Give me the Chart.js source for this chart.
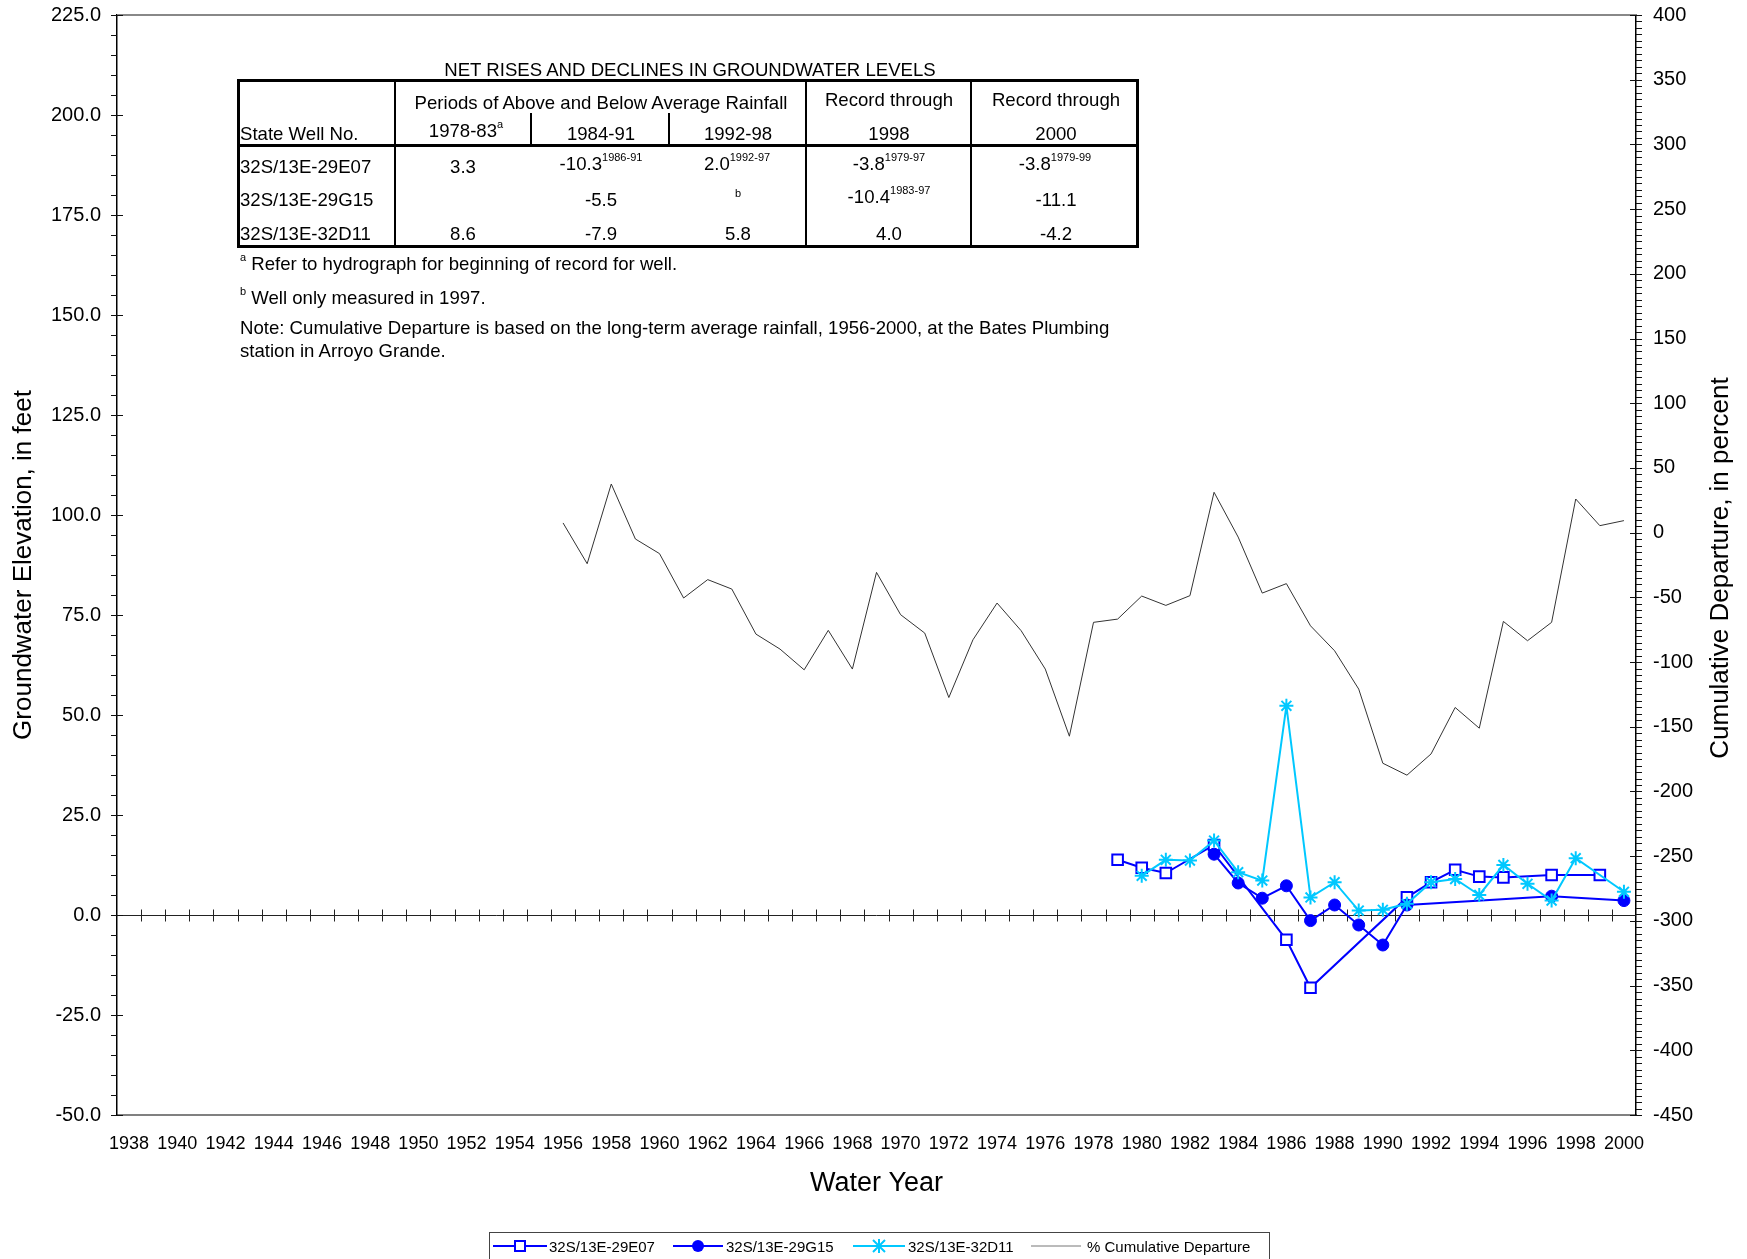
<!DOCTYPE html>
<html>
<head>
<meta charset="utf-8">
<title>Groundwater hydrograph</title>
<script src="https://cdn.jsdelivr.net/npm/chart.js@4.4.1/dist/chart.umd.min.js"></script>
<style>
  body { margin: 0; background: #fff; font-family: "Liberation Sans", Arial, sans-serif; }
  #wrap { position: relative; width: 1747px; height: 1259px; overflow: hidden; }
  #chart { position: absolute; left: 0; top: 0; }
  .t { position: absolute; font-size: 18.6px; color: #000; white-space: nowrap; line-height: 1; }
  .c { transform: translate(-50%, -50%); }
  .l { transform: translateY(-50%); }
  .t sup { font-size: 11px; line-height: 0; position: relative; top: -2px; }
  .ln { position: absolute; background: #000; }
  #legend { position: absolute; left: 489px; top: 1232px; width: 781px; height: 40px;
            border: 1px solid #444; box-sizing: border-box; }
  .lg { position: absolute; font-size: 15px; top: 13px; transform: translateY(-50%); white-space: nowrap; line-height: 1; }
</style>
</head>
<body>
<div id="wrap">
  <canvas id="chart" width="1747" height="1259"></canvas>

  <!-- summary table -->
  <div class="t c" style="left:690px; top:70px;">NET RISES AND DECLINES IN GROUNDWATER LEVELS</div>
  <div style="position:absolute; left:237px; top:79px; width:902px; height:169px; border:3px solid #000; box-sizing:border-box;"></div>
  <div class="ln" style="left:237px; top:144px; width:902px; height:3px;"></div>
  <div class="ln" style="left:394px; top:79px; width:2px; height:169px;"></div>
  <div class="ln" style="left:530px; top:113px; width:2px; height:33px;"></div>
  <div class="ln" style="left:668px; top:113px; width:2px; height:33px;"></div>
  <div class="ln" style="left:805px; top:79px; width:2px; height:169px;"></div>
  <div class="ln" style="left:970px; top:79px; width:2px; height:169px;"></div>

  <div class="t c" style="left:601px; top:103px;">Periods of Above and Below Average Rainfall</div>
  <div class="t c" style="left:889px; top:100px;">Record through</div>
  <div class="t c" style="left:1056px; top:100px;">Record through</div>
  <div class="t l" style="left:240px; top:134px;">State Well No.</div>
  <div class="t c" style="left:466px; top:131px;">1978-83<sup>a</sup></div>
  <div class="t c" style="left:601px; top:134px;">1984-91</div>
  <div class="t c" style="left:738px; top:134px;">1992-98</div>
  <div class="t c" style="left:889px; top:134px;">1998</div>
  <div class="t c" style="left:1056px; top:134px;">2000</div>

  <div class="t l" style="left:240px; top:167px;">32S/13E-29E07</div>
  <div class="t c" style="left:463px; top:167px;">3.3</div>
  <div class="t c" style="left:601px; top:164px;">-10.3<sup>1986-91</sup></div>
  <div class="t c" style="left:737px; top:164px;">2.0<sup>1992-97</sup></div>
  <div class="t c" style="left:889px; top:164px;">-3.8<sup>1979-97</sup></div>
  <div class="t c" style="left:1055px; top:164px;">-3.8<sup>1979-99</sup></div>

  <div class="t l" style="left:240px; top:200px;">32S/13E-29G15</div>
  <div class="t c" style="left:601px; top:200px;">-5.5</div>
  <div class="t c" style="left:738px; top:193px; font-size:11px;">b</div>
  <div class="t c" style="left:889px; top:197px;">-10.4<sup>1983-97</sup></div>
  <div class="t c" style="left:1056px; top:200px;">-11.1</div>

  <div class="t l" style="left:240px; top:234px;">32S/13E-32D11</div>
  <div class="t c" style="left:463px; top:234px;">8.6</div>
  <div class="t c" style="left:601px; top:234px;">-7.9</div>
  <div class="t c" style="left:738px; top:234px;">5.8</div>
  <div class="t c" style="left:889px; top:234px;">4.0</div>
  <div class="t c" style="left:1056px; top:234px;">-4.2</div>

  <div class="t l" style="left:240px; top:264px;"><sup>a</sup> Refer to hydrograph for beginning of record for well.</div>
  <div class="t l" style="left:240px; top:298px;"><sup>b</sup> Well only measured in 1997.</div>
  <div class="t l" style="left:240px; top:328px;">Note: Cumulative Departure is based on the long-term average rainfall, 1956-2000, at the Bates Plumbing</div>
  <div class="t l" style="left:240px; top:351px;">station in Arroyo Grande.</div>

  <!-- legend -->
  <div id="legend">
    <svg width="781" height="30" style="position:absolute; left:-1px; top:-1px;">
      <line x1="4" y1="14" x2="58" y2="14" stroke="#0000ff" stroke-width="2"/>
      <rect x="26" y="9" width="10" height="10" fill="#fff" stroke="#0000ff" stroke-width="2"/>
      <line x1="184" y1="14" x2="234" y2="14" stroke="#0000ff" stroke-width="2"/>
      <circle cx="209" cy="14" r="6" fill="#0000ff"/>
      <line x1="364" y1="14" x2="416" y2="14" stroke="#00c8ff" stroke-width="2"/>
      <path d="M390 7 V21 M384 8 L396 20 M396 8 L384 20 M383 14 H397" stroke="#00c8ff" stroke-width="2"/>
      <line x1="542" y1="14" x2="592" y2="14" stroke="#777" stroke-width="1"/>
    </svg>
    <div class="lg" style="left:59px;">32S/13E-29E07</div>
    <div class="lg" style="left:236px;">32S/13E-29G15</div>
    <div class="lg" style="left:418px;">32S/13E-32D11</div>
    <div class="lg" style="left:597px;">% Cumulative Departure</div>
  </div>
</div>

<script>
// water years of the rainfall record
const depYears = [1956, 1957, 1958, 1959, 1960, 1961, 1962, 1963, 1964, 1965, 1966, 1967, 1968, 1969, 1970,
                  1971, 1972, 1973, 1974, 1975, 1976, 1977, 1978, 1979, 1980, 1981, 1982, 1983, 1984, 1985,
                  1986, 1987, 1988, 1989, 1990, 1991, 1992, 1993, 1994, 1995, 1996, 1997, 1998, 1999, 2000];
// % cumulative departure from average rainfall
const cumDeparture = [7.5, -24, 37.6, -4.9, -16.2, -50.5, -36.3, -43.6, -78.4, -90, -106, -75.5, -105.4, -30.7, -63.4,
                      -77.6, -127.4, -82.8, -54.4, -75.8, -105.4, -157.3, -69.3, -66.8, -49, -56.2, -48.7, 31.2, -3.4, -46.7,
                      -39.4, -72, -91.3, -120.9, -178.2, -187.4, -171, -135.1, -151.1, -68.6, -83.5, -69.3, 26, 5.4, 9.3];

// groundwater elevations, feet
const e07Years = [1979, 1980, 1981, 1983, 1986, 1987, 1991, 1992, 1993, 1994, 1995, 1997, 1999];
const e07Levels = [13.8, 11.8, 10.5, 17.5, -6.2, -18.2, 4.4, 8.2, 11.3, 9.6, 9.4, 10.0, 10.0];

const g15Years = [1983, 1984, 1985, 1986, 1987, 1988, 1989, 1990, 1991, 1997, 2000];
const g15Levels = [15.2, 8.0, 4.2, 7.3, -1.4, 2.5, -2.5, -7.5, 2.5, 4.7, 3.6];

const d11Years = [1980, 1981, 1982, 1983, 1984, 1985, 1986, 1987, 1988, 1989, 1990, 1991, 1992, 1993, 1994,
                  1995, 1996, 1997, 1998, 2000];
const d11Levels = [9.8, 13.8, 13.6, 18.6, 10.7, 8.6, 52.3, 4.4, 8.2, 1.1, 1.3, 2.8, 8.2, 9.0, 5.0,
                   12.5, 7.8, 3.6, 14.2, 5.8];

// labelled years on the x axis
const yearLabels = [1938, 1940, 1942, 1944, 1946, 1948, 1950, 1952, 1954, 1956, 1958, 1960, 1962, 1964, 1966, 1968,
                    1970, 1972, 1974, 1976, 1978, 1980, 1982, 1984, 1986, 1988, 1990, 1992, 1994, 1996, 1998, 2000];

const pairs = (xs, ys) => xs.map((x, i) => ({x: x, y: ys[i]}));

Chart.defaults.font.family = '"Liberation Sans", Arial, sans-serif';
Chart.defaults.color = '#000';

// axis frame: inside/outside tick marks, zero line with year ticks, top border, right title
const framePlugin = {
    id: 'framePlugin',
    beforeDatasetsDraw(chart) {
        const {ctx, chartArea: a, scales: {x, y}} = chart;
        ctx.save();
        const y0 = Math.round(y.getPixelForValue(0)) + 0.5;
        ctx.strokeStyle = '#222';
        ctx.lineWidth = 1;
        ctx.beginPath();
        ctx.moveTo(a.left, y0);
        ctx.lineTo(a.right, y0);
        for (let yr = x.min + 1; yr < x.max; yr++) {
            const px = Math.round(x.getPixelForValue(yr)) + 0.5;
            ctx.moveTo(px, y0 - 6);
            ctx.lineTo(px, y0 + 6);
        }
        ctx.stroke();
        ctx.strokeStyle = '#888';
        ctx.lineWidth = 2;
        ctx.beginPath();
        ctx.moveTo(a.left, a.top);
        ctx.lineTo(a.right, a.top);
        ctx.stroke();
        ctx.restore();
    },
    afterDraw(chart) {
        const {ctx, chartArea: a, scales: {y, y1}} = chart;
        ctx.save();
        ctx.strokeStyle = '#111';
        ctx.lineWidth = 1;
        ctx.beginPath();
        for (let v = y.min; v <= y.max; v += 5) {
            const py = Math.round(y.getPixelForValue(v)) + 0.5;
            ctx.moveTo(a.left - 6, py);
            ctx.lineTo(v % 25 === 0 ? a.left + 6 : a.left, py);
        }
        for (let v = y1.min; v <= y1.max; v += 5) {
            const py = Math.round(y1.getPixelForValue(v)) + 0.5;
            ctx.moveTo(v % 50 === 0 ? a.right - 6 : a.right, py);
            ctx.lineTo(a.right + 6, py);
        }
        ctx.stroke();
        ctx.translate(chart.width - 26, (a.top + a.bottom) / 2 + 3);
        ctx.rotate(-Math.PI / 2);
        ctx.fillStyle = '#000';
        ctx.font = '26px "Liberation Sans", Arial, sans-serif';
        ctx.textAlign = 'center';
        ctx.textBaseline = 'middle';
        ctx.fillText('Cumulative Departure, in percent', 0, 0);
        ctx.restore();
    }
};

const blue = '#0000ff';
const cyan = '#00c8ff';

new Chart(document.getElementById('chart'), {
    type: 'line',
    data: {
        datasets: [{
                label: '32S/13E-32D11',
                data: pairs(d11Years, d11Levels),
                yAxisID: 'y',
                order: 0,
                borderColor: cyan,
                borderWidth: 2,
                pointStyle: 'star',
                pointRadius: 7,
                pointBorderColor: cyan,
                pointBorderWidth: 2
            },
            {
                label: '32S/13E-29G15',
                data: pairs(g15Years, g15Levels),
                yAxisID: 'y',
                order: 1,
                borderColor: blue,
                borderWidth: 2,
                pointStyle: 'circle',
                pointRadius: 6,
                pointBackgroundColor: blue,
                pointBorderColor: blue,
                pointBorderWidth: 1
            },
            {
                label: '32S/13E-29E07',
                data: pairs(e07Years, e07Levels),
                yAxisID: 'y',
                order: 2,
                borderColor: blue,
                borderWidth: 2,
                pointStyle: 'rect',
                pointRadius: 7.5,
                pointBackgroundColor: '#fff',
                pointBorderColor: blue,
                pointBorderWidth: 2
            },
            {
                label: '% Cumulative Departure',
                data: pairs(depYears, cumDeparture),
                yAxisID: 'y1',
                order: 3,
                borderColor: '#333',
                borderWidth: 1,
                pointRadius: 0
            }
        ]
    },
    options: {
        responsive: false,
        animation: false,
        devicePixelRatio: 1,
        layout: { autoPadding: false, padding: { top: 0, left: 0, right: 0, bottom: 0 } },
        plugins: { legend: { display: false }, tooltip: { enabled: false } },
        scales: {
            x: {
                type: 'linear',
                min: 1937.5,
                max: 2000.5,
                afterBuildTicks: scale => { scale.ticks = yearLabels.map(v => ({ value: v })); },
                afterFit: scale => { scale.height = 144; },
                ticks: { font: { size: 18 }, padding: 18, maxRotation: 0, autoSkip: false, callback: v => String(v) },
                grid: { display: false, drawTicks: false },
                border: { display: true, color: '#808080', width: 2 },
                title: { display: true, text: 'Water Year', font: { size: 27 }, padding: { top: 0, bottom: 59 } }
            },
            y: {
                position: 'left',
                min: -50,
                max: 225,
                afterFit: scale => { scale.width = 117; },
                ticks: { stepSize: 25, font: { size: 20 }, padding: 3, callback: v => v.toFixed(1) },
                grid: { display: false, drawTicks: true, tickLength: 13 },
                border: { display: true, color: '#000', width: 1.5 },
                title: { display: true, text: 'Groundwater Elevation, in feet', font: { size: 26 }, padding: { top: 8, bottom: 0 } }
            },
            y1: {
                position: 'right',
                min: -450,
                max: 400,
                afterFit: scale => { scale.width = 111; },
                ticks: { stepSize: 50, font: { size: 20 }, padding: 3, callback: v => String(v) },
                grid: { display: false, drawTicks: true, tickLength: 14 },
                border: { display: true, color: '#000', width: 1.5 }
            }
        }
    },
    plugins: [framePlugin]
});
</script>
</body>
</html>
